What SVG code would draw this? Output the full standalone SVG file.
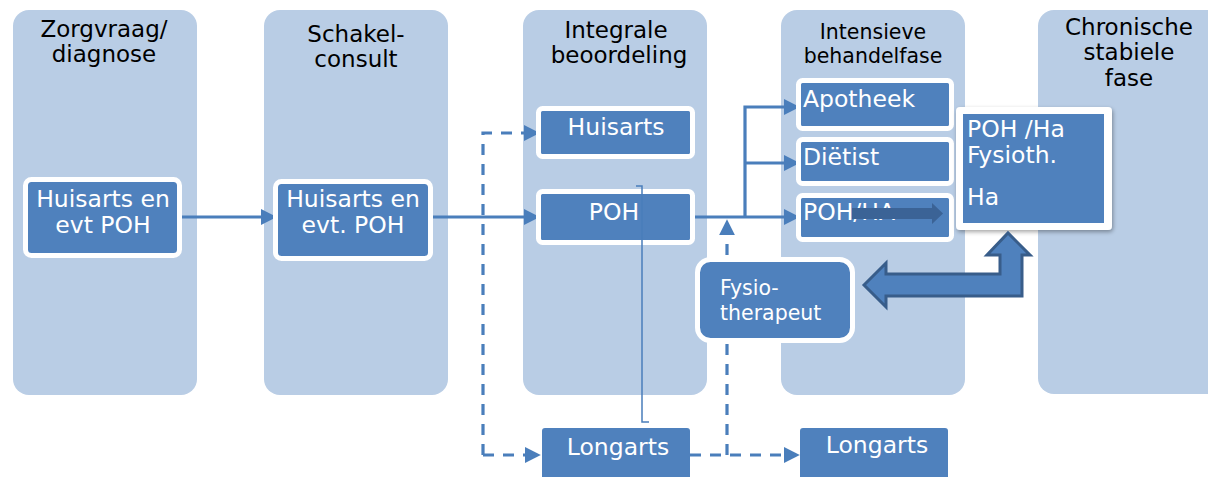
<svg xmlns="http://www.w3.org/2000/svg" width="1208" height="477" viewBox="0 0 1208 477">
<style>
.col{fill:#B9CDE5}
.title{font-family:"DejaVu Sans","Verdana",sans-serif;font-size:23px;fill:#000;text-anchor:middle}
.title2{font-family:"DejaVu Sans","Verdana",sans-serif;font-size:20.5px;fill:#000;text-anchor:middle}
.node{fill:#4F81BD;stroke:#FFFFFF;stroke-width:5}
.plain{fill:#4F81BD}
.lbl{font-family:"DejaVu Sans","Verdana",sans-serif;font-size:23.5px;fill:#FFFFFF}
.c{text-anchor:middle}
.lblS{font-family:"DejaVu Sans","Verdana",sans-serif;font-size:20.5px;fill:#FFFFFF}
.conn{fill:none;stroke:#4A7EBB;stroke-width:3.2}
.dash{fill:none;stroke:#4A7EBB;stroke-width:3.2;stroke-dasharray:11 9}
.block{fill:#4F81BD;stroke:#385D8A;stroke-width:3;stroke-linejoin:miter}
</style>
<defs>
<marker id="arr" viewBox="0 0 10 10" refX="7" refY="5" markerWidth="16" markerHeight="16" markerUnits="userSpaceOnUse" orient="auto">
<path d="M0,0 L10,5 L0,10 z" fill="#4A7EBB"/>
</marker>
<filter id="sh" x="-10%" y="-10%" width="130%" height="130%">
<feDropShadow dx="1" dy="2" stdDeviation="2" flood-color="#000" flood-opacity="0.35"/>
</filter>
</defs>
<rect width="1208" height="477" fill="#FFFFFF"/>
<g id="columns">
<rect class="col" x="13" y="10" width="184" height="385" rx="16"/>
<rect class="col" x="264" y="10" width="184" height="385" rx="16"/>
<rect class="col" x="523" y="10" width="184" height="385" rx="16"/>
<rect class="col" x="781" y="10" width="184" height="385" rx="16"/>
<rect class="col" x="1038" y="10" width="200" height="384" rx="16"/>
<text class="title" x="104" y="37">Zorgvraag/</text>
<text class="title" x="104" y="62">diagnose</text>
<text class="title" x="356" y="42">Schakel-</text>
<text class="title" x="356" y="67">consult</text>
<text class="title" x="616" y="38">Integrale</text>
<text class="title" x="619" y="63">beoordeling</text>
<text class="title2" x="873" y="39">Intensieve</text>
<text class="title2" x="873" y="63">behandelfase</text>
<text class="title" x="1129" y="35">Chronische</text>
<text class="title" x="1129" y="60">stabiele</text>
<text class="title" x="1129" y="86">fase</text>
</g>
<g id="connectors">
<path class="conn" d="M179 217 H272" marker-end="url(#arr)"/>
<path class="conn" d="M433 217 H535" marker-end="url(#arr)"/>
<path class="conn" d="M695 217 H795" marker-end="url(#arr)"/>
<path class="conn" d="M745 217 V107 H795" marker-end="url(#arr)"/>
<path class="conn" d="M745 163 H795" marker-end="url(#arr)"/>
<path class="dash" d="M483 455 V133 H535" marker-end="url(#arr)"/>
<path class="dash" d="M483 455 H536" marker-end="url(#arr)"/>
<path class="dash" d="M690 455 H795" marker-end="url(#arr)"/>
<path class="dash" d="M727 455 V224" marker-end="url(#arr)"/>
</g>
<g id="n-huisarts-evt-poh">
<rect class="node" x="25.5" y="179.5" width="154" height="76" rx="6"/>
<text class="lbl c" x="103" y="207">Huisarts en</text>
<text class="lbl c" x="103" y="233">evt POH</text>
</g>
<g id="n-huisarts-evt-poh-2">
<rect class="node" x="275.5" y="181.5" width="155" height="77" rx="6"/>
<text class="lbl c" x="353" y="207">Huisarts en</text>
<text class="lbl c" x="353" y="233">evt. POH</text>
</g>
<g id="n-huisarts">
<rect class="node" x="538.5" y="108.5" width="154" height="48" rx="4"/>
<text class="lbl c" x="616" y="135">Huisarts</text>
</g>
<g id="n-poh">
<rect class="node" x="538.5" y="191.5" width="154" height="51" rx="4"/>
<text class="lbl c" x="614" y="220">POH</text>
</g>
<g id="n-apotheek">
<rect class="node" x="798.5" y="80.5" width="153" height="48" rx="4"/>
<text class="lbl" x="803" y="107">Apotheek</text>
</g>
<g id="n-dietist">
<rect class="node" x="798.5" y="139.5" width="153" height="44" rx="4"/>
<text class="lbl" x="803" y="165">Diëtist</text>
</g>
<g id="n-poh-ha">
<rect class="node" x="798.5" y="195.5" width="153" height="44" rx="4"/>
<text class="lbl" x="803" y="220">POH/HA</text>
</g>
<g id="n-fysiotherapeut">
<rect class="node" x="697.5" y="259.5" width="155" height="81" rx="13"/>
<text class="lblS" x="720" y="295">Fysio-</text>
<text class="lblS" x="720" y="320">therapeut</text>
</g>
<g id="n-longarts-1">
<rect class="plain" x="542" y="428" width="148" height="60" rx="3"/>
<text class="lbl c" x="618" y="455">Longarts</text>
</g>
<g id="n-longarts-2">
<rect class="plain" x="800" y="428" width="148" height="60" rx="3"/>
<text class="lbl c" x="877" y="453">Longarts</text>
</g>
<g id="n-poh-ha-fysioth">
<rect x="956" y="107" width="156" height="123" rx="4" fill="#FFFFFF" filter="url(#sh)"/>
<rect x="963" y="114" width="141" height="109" fill="#4F81BD"/>
<text class="lbl" x="967" y="137">POH /Ha</text>
<text class="lbl" x="967" y="163">Fysioth.</text>
<text class="lbl" x="967" y="205">Ha</text>
</g>
<g id="overlays">
<path d="M636 186 H642 V422 H649" fill="none" stroke="#4A7EBB" stroke-width="1.5"/>
<path d="M852 208 H932 V203 L943 213.5 L932 224 V219 H852 Z" fill="#3B6396"/>
<path class="block" d="M864 285 L886 263 V274 H1000 V255 H987 L1008 233 L1030 255 H1022 V296 H886 V307 Z"/>
</g>
</svg>
